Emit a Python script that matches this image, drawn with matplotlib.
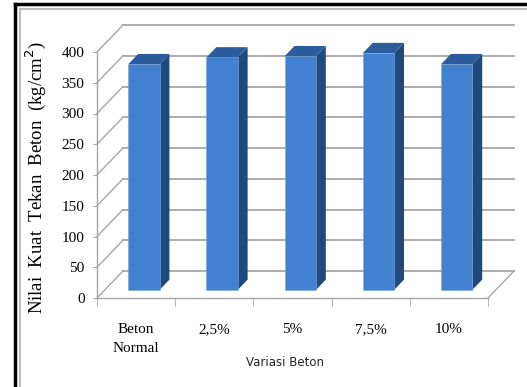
import matplotlib
matplotlib.use("Agg")
import matplotlib.pyplot as plt
import numpy as np
from matplotlib.patches import Polygon
from matplotlib.lines import Line2D

# data
kategori = ["Beton\nNormal", "2,5%", "5%", "7,5%", "10%"]
kuat_tekan = [367, 378, 380, 385, 367]
yticks = [0, 50, 100, 150, 200, 250, 300, 350, 400]

W, H = 527, 387
fig = plt.figure(figsize=(W / 100, H / 100), dpi=100)
fig.patch.set_facecolor("white")

def fx(px):
    return px / W

def fy(py):
    return 1 - py / H

# front plane of the "3d" chart
ax = fig.add_axes([fx(97), fy(298), fx(488) - fx(97), fy(52) - fy(298)])
ax.set_xlim(-0.5, len(kategori) - 0.5)
ax.set_ylim(0, 400)
ax.patch.set_alpha(0)

# depth offset (oblique projection) in data units
ddx = 26 / 78.2
ddy = 27 / 0.615
f0, f1 = 0.3, 0.68  # bar front / back depth
w = 0.4
grid_c = "#a6a6a6"

x0, x1 = -0.5, len(kategori) - 0.5
for t in yticks:
    # back wall and left wall lines
    ax.add_line(Line2D([x0 + ddx, x1 + ddx], [t + ddy, t + ddy], color=grid_c, lw=1.3, clip_on=False, zorder=1))
    ax.add_line(Line2D([x0, x0 + ddx], [t, t + ddy], color=grid_c, lw=1.0, clip_on=False, zorder=1))
# right floor edge
ax.add_line(Line2D([x1, x1 + ddx], [0, ddy], color=grid_c, lw=1.0, clip_on=False, zorder=1))

x = np.arange(len(kategori))
front_c = "#4281cf"
top_c = "#2b5d9c"
side_c = "#1f4a7e"

ax.bar(x + f0 * ddx, kuat_tekan, width=w, bottom=f0 * ddy, color=front_c,
       edgecolor="#7fa8dc", linewidth=0.4, zorder=3)
for xi, v in zip(x, kuat_tekan):
    xl = xi - w / 2
    xr = xi + w / 2
    side = [(xr + f0 * ddx, f0 * ddy), (xr + f1 * ddx, f1 * ddy),
            (xr + f1 * ddx, v + f1 * ddy), (xr + f0 * ddx, v + f0 * ddy)]
    top = [(xl + f0 * ddx, v + f0 * ddy), (xr + f0 * ddx, v + f0 * ddy),
           (xr + f1 * ddx, v + f1 * ddy), (xl + f1 * ddx, v + f1 * ddy)]
    ax.add_patch(Polygon(side, closed=True, facecolor=side_c, edgecolor="none", clip_on=False, zorder=2))
    ax.add_patch(Polygon(top, closed=True, facecolor=top_c, edgecolor="none", clip_on=False, zorder=4))

for s in ["top", "right"]:
    ax.spines[s].set_visible(False)
for s in ["left", "bottom"]:
    ax.spines[s].set_color(grid_c)
    ax.spines[s].set_linewidth(1.0)

serif = "Liberation Serif"
ax.set_yticks(yticks)
ax.set_yticklabels([str(t) for t in yticks], fontfamily=serif, fontsize=11)
ax.tick_params(axis="y", direction="out", length=3, color=grid_c, pad=6)

ax.set_xticks(x)
ax.set_xticklabels(kategori, fontfamily=serif, fontsize=11, linespacing=1.6)
ax.set_xticks(np.arange(len(kategori) + 1) - 0.5, minor=True)
ax.tick_params(axis="x", which="major", length=0, pad=18)
ax.tick_params(axis="x", which="minor", direction="out", length=6, color=grid_c)

fig.text(fx(285), fy(362), "Variasi Beton", fontfamily="DejaVu Sans", fontsize=8.5,
         ha="center", va="center", color="#222222")
fig.text(fx(36), fy(178), "Nilai  Kuat  Tekan  Beton  (kg/cm$^2$)", fontfamily=serif,
         fontsize=13.5, rotation=90, ha="center", va="center")

# frames around the chart
fig.add_artist(Line2D([fx(15), fx(15)], [fy(4), 0], color="black", lw=2.5, transform=fig.transFigure))
fig.add_artist(Line2D([fx(15), 1], [fy(4), fy(4)], color="black", lw=2.5, transform=fig.transFigure))
fig.add_artist(Line2D([fx(19.5), fx(19.5)], [fy(9), 0], color="#b0b0b0", lw=1.2, transform=fig.transFigure))
fig.add_artist(Line2D([fx(19.5), 1], [fy(9), fy(9)], color="#b0b0b0", lw=1.2, transform=fig.transFigure))

fig.savefig("out.png", dpi=100)
